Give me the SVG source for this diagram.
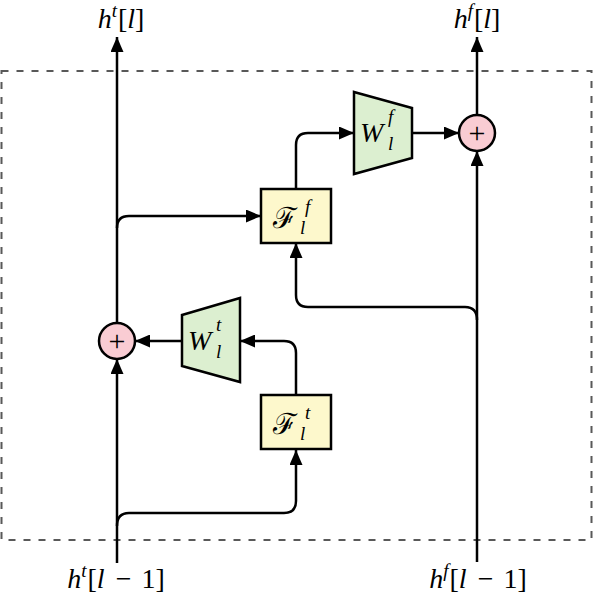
<svg xmlns="http://www.w3.org/2000/svg" width="593" height="600" viewBox="0 0 593 600">
<style>
.wire{fill:none;stroke:#000;stroke-width:2.5}
.box{fill:#fdf8cc;stroke:#000;stroke-width:2.5}
.trap{fill:#dcefd0;stroke:#000;stroke-width:2.5}
.sum{fill:#f9ccd3;stroke:#000;stroke-width:2.5}
</style>
<defs>
<marker id="ah" markerWidth="15" markerHeight="13" refX="15" refY="6.5" orient="auto" markerUnits="userSpaceOnUse">
<path d="M0,0 L15,6.5 L0,13 z" fill="#000"/>
</marker>
</defs>
<rect x="1.5" y="71" width="590" height="469" fill="none" stroke="#595959" stroke-width="2" stroke-dasharray="7 8"/>
<g id="connectors">
<path class="wire" d="M117,563 L117,359" marker-end="url(#ah)"/>
<path class="wire" d="M117,323 L117,37" marker-end="url(#ah)"/>
<path class="wire" d="M117,228 Q117,216 129,216 L261,216" marker-end="url(#ah)"/>
<path class="wire" d="M117,526 Q117,513 129,513 L284,513 Q296,513 296,501 L296,450" marker-end="url(#ah)"/>
<path class="wire" d="M296,395 L296,353 Q296,341 284,341 L240,341" marker-end="url(#ah)"/>
<path class="wire" d="M182,341 L135,341" marker-end="url(#ah)"/>
<path class="wire" d="M296,189 L296,145 Q296,133 308,133 L354,133" marker-end="url(#ah)"/>
<path class="wire" d="M412,133 L459,133" marker-end="url(#ah)"/>
<path class="wire" d="M477,562 L477,151" marker-end="url(#ah)"/>
<path class="wire" d="M477,115 L477,37" marker-end="url(#ah)"/>
<path class="wire" d="M477,320 Q477,307 465,307 L308,307 Q296,307 296,295 L296,243" marker-end="url(#ah)"/>
</g>
<g font-family="Liberation Serif, serif" font-size="28" fill="#000">
<g id="Ff">
<rect class="box" x="261" y="189" width="70" height="54"/>
<text><tspan font-family="DejaVu Serif, serif" font-size="29" x="273" y="228">ℱ</tspan><tspan font-style="italic" font-size="19" x="305" y="213">f</tspan><tspan font-style="italic" font-size="19" x="300" y="234">l</tspan></text>
</g>
<g id="Ft">
<rect class="box" x="261" y="395" width="70" height="54"/>
<text><tspan font-family="DejaVu Serif, serif" font-size="29" x="273" y="434">ℱ</tspan><tspan font-style="italic" font-size="19" x="305" y="419">t</tspan><tspan font-style="italic" font-size="19" x="300" y="440">l</tspan></text>
</g>
<g id="Wf">
<polygon class="trap" points="354,92 412,108 412,158 354,174"/>
<text font-style="italic"><tspan x="360" y="142">W</tspan><tspan font-size="19" x="388" y="123">f</tspan><tspan font-size="19" x="388" y="150">l</tspan></text>
</g>
<g id="Wt">
<polygon class="trap" points="182,315 240,298 240,382 182,366"/>
<text font-style="italic"><tspan x="188" y="350">W</tspan><tspan font-size="19" x="216" y="331">t</tspan><tspan font-size="19" x="216" y="358">l</tspan></text>
</g>
<g id="sumT">
<circle class="sum" cx="117" cy="341" r="18"/>
<text x="117" y="351" font-size="30" text-anchor="middle">+</text>
</g>
<g id="sumF">
<circle class="sum" cx="477" cy="133" r="18"/>
<text x="477" y="143" font-size="30" text-anchor="middle">+</text>
</g>
<g id="out-t">
<text x="121" y="28" text-anchor="middle"><tspan font-style="italic">h</tspan><tspan font-style="italic" font-size="19" dy="-11">t</tspan><tspan dy="11" dx="1">[</tspan><tspan font-style="italic">l</tspan>]</text>
</g>
<g id="out-f">
<text x="477" y="28" text-anchor="middle"><tspan font-style="italic">h</tspan><tspan font-style="italic" font-size="19" dy="-11">f</tspan><tspan dy="11" dx="1">[</tspan><tspan font-style="italic">l</tspan>]</text>
</g>
<g id="in-t">
<text x="116" y="588" text-anchor="middle"><tspan font-style="italic">h</tspan><tspan font-style="italic" font-size="19" dy="-11">t</tspan><tspan dy="11" dx="1">[</tspan><tspan font-style="italic">l</tspan><tspan dx="4"> − </tspan><tspan dx="3">1</tspan>]</text>
</g>
<g id="in-f">
<text x="478" y="588" text-anchor="middle"><tspan font-style="italic">h</tspan><tspan font-style="italic" font-size="19" dy="-11">f</tspan><tspan dy="11" dx="1">[</tspan><tspan font-style="italic">l</tspan><tspan dx="4"> − </tspan><tspan dx="3">1</tspan>]</text>
</g>
</g>
</svg>
